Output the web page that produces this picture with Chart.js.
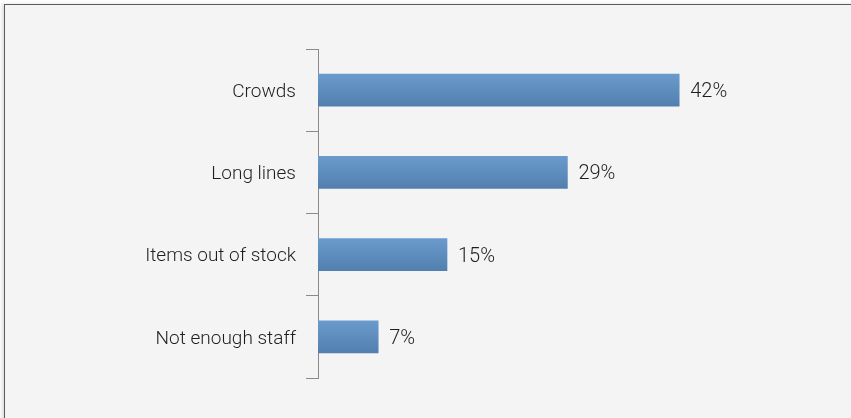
<!DOCTYPE html>
<html>
<head>
<meta charset="utf-8">
<script src="https://cdn.jsdelivr.net/npm/chart.js@4"></script>
<style>
  html, body { margin: 0; padding: 0; background: #fdfdfd; overflow: hidden; }
  #frame {
    position: absolute; left: 4px; top: 4px; width: 900px; height: 500px;
    border: 1px solid #5a5a5a; background: #f4f4f4;
    box-shadow: -2px 0 3px rgba(0,0,0,0.12);
  }
  #wrap { position: absolute; left: 0; top: 0; width: 851px; height: 418px; }
</style>
</head>
<body>
<div id="frame"></div>
<div id="wrap"><canvas id="chart"></canvas></div>
<script>
const categories = ['Crowds', 'Long lines', 'Items out of stock', 'Not enough staff'];
const shares = [42, 29, 15, 7];
const valueLabels = ['42%', '29%', '15%', '7%'];

const FONT = 'Roboto, sans-serif';

const barLabels = {
  id: 'barLabels',
  afterDatasetsDraw(chart) {
    const ctx = chart.ctx;
    const meta = chart.getDatasetMeta(0);
    ctx.save();
    ctx.font = '300 20px ' + FONT;
    ctx.fillStyle = '#1e1e1e';
    ctx.textAlign = 'left';
    ctx.textBaseline = 'middle';
    meta.data.forEach((bar, i) => {
      ctx.fillText(valueLabels[i], bar.x + 11, bar.y + 2);
    });
    ctx.restore();
  }
};

function barFill(context) {
  const chart = context.chart;
  if (!chart.chartArea || context.dataIndex === undefined) return '#5f8dc0';
  const y = chart.scales.y.getPixelForValue(context.dataIndex);
  const g = chart.ctx.createLinearGradient(0, y - 16, 0, y + 16);
  g.addColorStop(0, '#6a9bcd');
  g.addColorStop(1, '#527fae');
  return g;
}

new Chart(document.getElementById('chart'), {
  type: 'bar',
  data: {
    labels: categories,
    datasets: [{
      data: shares,
      backgroundColor: barFill,
      borderWidth: 0,
      barThickness: 32
    }]
  },
  options: {
    indexAxis: 'y',
    responsive: true,
    maintainAspectRatio: false,
    animation: false,
    layout: { padding: { top: 49, bottom: 40, right: 17, left: 0 } },
    plugins: { legend: { display: false }, tooltip: { enabled: false } },
    scales: {
      x: { display: false, min: 0, max: 60 },
      y: {
        afterFit(scale) { scale.width = 318; },
        border: { display: true, color: '#8a8a8a', width: 1 },
        grid: { drawOnChartArea: false, drawTicks: true, tickLength: 12, color: '#8a8a8a', offset: true },
        ticks: {
          padding: 10,
          labelOffset: 2,
          color: '#1e1e1e',
          font: { family: FONT, size: 19, weight: '300' }
        }
      }
    }
  },
  plugins: [barLabels]
});
</script>
</body>
</html>
